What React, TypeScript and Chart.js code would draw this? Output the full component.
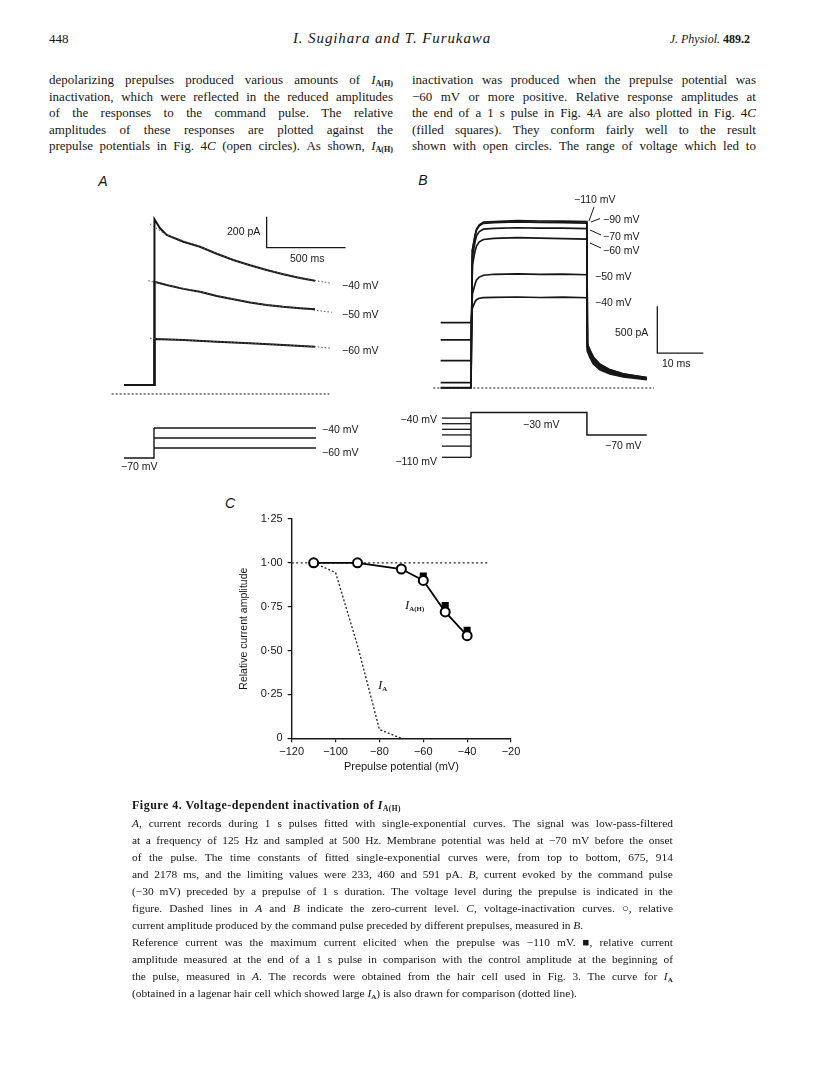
import React, { useEffect, useRef } from "react";
import { Chart, registerables } from "chart.js";
Chart.register(...registerables);

const SANS = '"Liberation Sans", Arial, Helvetica, sans-serif';
const SERIF = '"Liberation Serif", "Times New Roman", serif';
const INK = "#161616";

// ---------------- Panel C : voltage-inactivation curves ----------------
const prepulseMV = [-110, -90, -70, -60, -50, -40];
const relAmpOpen = [1.0, 1.0, 0.965, 0.9, 0.72, 0.585];
const squareMV = [-60, -50, -40];
const relAmpSquare = [0.925, 0.757, 0.615];
const iaMV = [-110, -100, -90, -80, -70];
const iaRel = [1.0, 0.945, 0.53, 0.05, 0.0];
const refLineMV = [-120, -30];
const refLineRel = [1, 1];
const xTicksC = [-120, -100, -80, -60, -40, -20];
const xTickLabelsC = ["\u2212120", "\u2212100", "\u221280", "\u221260", "\u221240", "\u221220"];
const yTicksC = [0, 0.25, 0.5, 0.75, 1.0, 1.25];
const yTickLabelsC = ["0", "0\u00b725", "0\u00b750", "0\u00b775", "1\u00b700", "1\u00b725"];

// ---------------- Panel A : current records (ms, pA) ----------------
const timeA40 = [-190, 1, 3, 38, 80, 186, 291, 397, 502, 608, 713, 818, 924, 1019];
const currA40 = [58, 58, 1127, 1069, 1026, 982, 950, 905, 864, 830, 800, 772, 748, 731];
const timeA50 = [1, 3, 80, 186, 291, 397, 502, 608, 713, 818, 924, 1019];
const currA50 = [58, 724, 703, 678, 660, 632, 611, 590, 574, 562, 553, 546];
const timeA60 = [1, 3, 186, 397, 608, 818, 1019];
const currA60 = [58, 355, 348, 337, 327, 316, 305];
const fitTimeA40 = [-25, 80, 291, 502, 713, 924, 1125];
const fitA40 = [1097, 1026, 950, 864, 800, 748, 714];
const fitTimeA50 = [-36, 80, 291, 502, 713, 924, 1125];
const fitA50 = [731, 703, 660, 611, 574, 553, 527];
const fitTimeA60 = [-25, 186, 397, 608, 818, 1019, 1125];
const fitA60 = [359, 348, 337, 327, 316, 305, 295];
const zeroTimeA = [-268, 1110];
const voltTimeA = [-190, 0, 1025];
const voltHoldA = -70;
const voltLevelsA = [-40, -50, -60];
const scaleBarA = { t0: 713, i0: 944, dt: 500, di: 200 };

// ---------------- Panel B : currents (ms, pA) ----------------
const timeB = [-6.6, 0, 0.3, 0.9, 1.2, 1.8, 2.7, 5, 10, 15, 20, 25.2, 25.3, 25.9, 26.6, 28, 30.2, 33.1, 38.2];
const currB110 = [0, 0, 1470, 1630, 1690, 1735, 1765, 1770, 1780, 1777, 1775, 1770, 470, 400, 330, 255, 195, 150, 112];
const currB90 = [5, 5, 1460, 1620, 1680, 1725, 1752, 1760, 1768, 1762, 1760, 1755, 460, 390, 320, 248, 190, 147, 110];
const currB70 = [57, 57, 1400, 1560, 1620, 1665, 1690, 1698, 1705, 1700, 1702, 1695, 445, 375, 305, 235, 180, 140, 105];
const currB60 = [291, 291, 1310, 1460, 1510, 1555, 1580, 1592, 1600, 1595, 1590, 1585, 430, 360, 292, 225, 172, 135, 102];
const currB50 = [511, 511, 1000, 1110, 1150, 1180, 1200, 1210, 1215, 1210, 1212, 1205, 410, 340, 275, 210, 160, 126, 96];
const currB40 = [695, 695, 850, 920, 940, 955, 962, 965, 968, 963, 966, 960, 390, 320, 255, 195, 150, 118, 90];
const zeroTimeB = [-8.2, 39.8];
const prepulseLevelsB = [-40, -50, -60, -70, -90, -110];
const prepulseTimeB = [-6.3, 0];
const commandB = { t0: 0, t1: 25.2, v: -30, tEnd: 38.2, vAfter: -70 };
const scaleBarB = { t0: 40.5, i0: 370, dt: 10, di: 500 };

// ---------------- text ----------------
const leftLines = [
  "depolarizing prepulses produced various amounts of \u00a7H",
  "inactivation, which were reflected in the reduced amplitudes",
  "of the responses to the command pulse. The relative",
  "amplitudes of these responses are plotted against the",
  "prepulse potentials in Fig. 4*C* (open circles). As shown, \u00a7H",
];
const rightLines = [
  "inactivation was produced when the prepulse potential was",
  "\u221260 mV or more positive. Relative response amplitudes at",
  "the end of a 1 s pulse in Fig. 4*A* are also plotted in Fig. 4*C*",
  "(filled squares). They conform fairly well to the result",
  "shown with open circles. The range of voltage which led to",
];
const captionLines = [
  "*A*, current records during 1 s pulses fitted with single-exponential curves. The signal was low-pass-filtered",
  "at a frequency of 125 Hz and sampled at 500 Hz. Membrane potential was held at \u221270 mV before the onset",
  "of the pulse. The time constants of fitted single-exponential curves were, from top to bottom, 675, 914",
  "and 2178 ms, and the limiting values were 233, 460 and 591 pA. *B*, current evoked by the command pulse",
  "(\u221230 mV) preceded by a prepulse of 1 s duration. The voltage level during the prepulse is indicated in the",
  "figure. Dashed lines in *A* and *B* indicate the zero-current level. *C*, voltage-inactivation curves. \u25cb, relative",
  "current amplitude produced by the command pulse preceded by different prepulses, measured in *B*.",
  "Reference current was the maximum current elicited when the prepulse was \u2212110 mV. \u25a0, relative current",
  "amplitude measured at the end of a 1 s pulse in comparison with the control amplitude at the beginning of",
  "the pulse, measured in *A*. The records were obtained from the hair cell used in Fig. 3. The curve for \u00a7a",
  "(obtained in a lagenar hair cell which showed large \u00a7a) is also drawn for comparison (dotted line).",
];
const captionJustify = [true, true, true, true, true, true, false, true, true, true, false];

// ---------------- helpers ----------------
const xy = (xs: number[], ys: number[]) => xs.map((x, i) => ({ x, y: ys[i] }));
const ln = (data: any[], extra: any = {}) => ({
  type: "line",
  data,
  borderColor: INK,
  borderWidth: 1.6,
  pointRadius: 0,
  fill: false,
  xAxisID: "x",
  yAxisID: "y",
  ...extra,
});

function traceOpts(xr: number[], yr: number[], vr: number[]): any {
  return {
    animation: false,
    responsive: false,
    maintainAspectRatio: false,
    events: [],
    layout: { padding: 0 },
    plugins: { legend: { display: false }, tooltip: { enabled: false } },
    elements: { point: { radius: 0 }, line: { tension: 0 } },
    scales: {
      x: { type: "linear", display: false, min: xr[0], max: xr[1] },
      y: { type: "linear", display: false, min: yr[0], max: yr[1] },
      v: { type: "linear", axis: "y", display: false, min: vr[0], max: vr[1] },
    },
  };
}

function SubI({ sub, size = 1 }: { sub: string; size?: number }) {
  return (
    <span style={{ whiteSpace: "nowrap" }}>
      <i>I</i>
      <span style={{ fontSize: `${0.62 * size}em`, fontWeight: 700, fontStyle: "normal", position: "relative", top: "0.3em", fontFamily: SERIF }}>{sub}</span>
    </span>
  );
}

function Rich({ s }: { s: string }) {
  const parts = s.split(/(\u00a7H|\u00a7a|\*[^*]*\*)/).filter((p) => p !== "");
  return (
    <>
      {parts.map((p, i) => {
        if (p === "\u00a7H") return <SubI key={i} sub="A(H)" />;
        if (p === "\u00a7a") return <SubI key={i} sub="A" />;
        if (p.length > 1 && p.startsWith("*") && p.endsWith("*")) return <i key={i}>{p.slice(1, -1)}</i>;
        return <React.Fragment key={i}>{p}</React.Fragment>;
      })}
    </>
  );
}

function TextLine({ text, left, width, yc, size, justify = true, weight = 400, spacing = 0 }: any) {
  const base: any = {
    position: "absolute",
    left,
    top: yc - 8,
    width,
    height: 16,
    lineHeight: "16px",
    fontSize: size,
    fontFamily: SERIF,
    fontWeight: weight,
    letterSpacing: spacing,
    color: INK,
    whiteSpace: "nowrap",
  };
  if (!justify) {
    return (
      <div style={base}>
        <Rich s={text} />
      </div>
    );
  }
  const words = text.split(" ");
  return (
    <div style={{ ...base, display: "flex", justifyContent: "space-between" }}>
      {words.map((w: string, i: number) => (
        <span key={i}>
          <Rich s={w} />
        </span>
      ))}
    </div>
  );
}

function Lbl({ x, y, children, align = "left", size = 10.5, italic = false, weight = 400, family = SANS }: any) {
  const tx = align === "left" ? "0" : align === "center" ? "-50%" : "-100%";
  return (
    <div
      style={{
        position: "absolute",
        left: x,
        top: y,
        transform: `translate(${tx}, -50%)`,
        fontSize: size,
        fontFamily: family,
        fontStyle: italic ? "italic" : "normal",
        fontWeight: weight,
        whiteSpace: "nowrap",
        lineHeight: 1,
        color: INK,
      }}
    >
      {children}
    </div>
  );
}

export default function App() {
  const refA = useRef<HTMLCanvasElement>(null);
  const refB = useRef<HTMLCanvasElement>(null);
  const refC = useRef<HTMLCanvasElement>(null);

  useEffect(() => {
    const charts: Chart[] = [];

    // ---------- Panel A ----------
    const dsA: any[] = [
      ln(xy(zeroTimeA, [0, 0]), { borderDash: [2, 2], borderWidth: 1.1 }),
      ln(xy(fitTimeA40, fitA40), { borderDash: [1.5, 2], borderWidth: 1, borderColor: "#555" }),
      ln(xy(fitTimeA50, fitA50), { borderDash: [1.5, 2], borderWidth: 1, borderColor: "#555" }),
      ln(xy(fitTimeA60, fitA60), { borderDash: [1.5, 2], borderWidth: 1, borderColor: "#555" }),
      ln(xy(timeA40, currA40), { borderWidth: 2 }),
      ln(xy(timeA50, currA50), { borderWidth: 2 }),
      ln(xy(timeA60, currA60), { borderWidth: 2 }),
      ln(
        [
          { x: scaleBarA.t0, y: scaleBarA.i0 + scaleBarA.di },
          { x: scaleBarA.t0, y: scaleBarA.i0 },
          { x: scaleBarA.t0 + scaleBarA.dt, y: scaleBarA.i0 },
        ],
        { borderWidth: 1.3 }
      ),
      ln(
        [
          { x: voltTimeA[0], y: voltHoldA },
          { x: voltTimeA[1], y: voltHoldA },
          { x: voltTimeA[1], y: voltLevelsA[0] },
        ],
        { yAxisID: "v", borderWidth: 1.4 }
      ),
      ...voltLevelsA.map((lv) =>
        ln(
          [
            { x: voltTimeA[1], y: lv },
            { x: voltTimeA[2], y: lv },
          ],
          { yAxisID: "v", borderWidth: 1.4 }
        )
      ),
    ];
    charts.push(
      new Chart(refA.current!, {
        type: "line",
        data: { datasets: dsA },
        options: traceOpts([-341.8, 1367.3], [-555, 1316], [-92, 198]),
      } as any)
    );

    // ---------- Panel B ----------
    const traces = [currB110, currB90, currB70, currB60, currB50, currB40];
    const dsB: any[] = [
      ln(xy(zeroTimeB, [0, 0]), { borderDash: [2, 2], borderWidth: 1.1 }),
      ...traces.map((c) => ln(xy(timeB, c), { borderWidth: 1.7 })),
      ln(
        [
          { x: scaleBarB.t0, y: scaleBarB.i0 + scaleBarB.di },
          { x: scaleBarB.t0, y: scaleBarB.i0 },
          { x: scaleBarB.t0 + scaleBarB.dt, y: scaleBarB.i0 },
        ],
        { borderWidth: 1.3 }
      ),
      ...prepulseLevelsB.map((lv) =>
        ln(
          [
            { x: prepulseTimeB[0], y: lv },
            { x: prepulseTimeB[1], y: lv },
          ],
          { yAxisID: "v", borderWidth: 1.3 }
        )
      ),
      ln(
        [
          { x: commandB.t0, y: prepulseLevelsB[prepulseLevelsB.length - 1] },
          { x: commandB.t0, y: commandB.v },
          { x: commandB.t1, y: commandB.v },
          { x: commandB.t1, y: commandB.vAfter },
          { x: commandB.tEnd, y: commandB.vAfter },
        ],
        { yAxisID: "v", borderWidth: 1.5 }
      ),
    ];
    charts.push(
      new Chart(refB.current!, {
        type: "line",
        data: { datasets: dsB },
        options: traceOpts([-10, 53.04], [-978.9, 2106.7], [-150.5, 367.3]),
      } as any)
    );

    // ---------- Panel C ----------
    const tickFont = { family: SANS, size: 11 };
    charts.push(
      new Chart(refC.current!, {
        type: "line",
        data: {
          datasets: [
            {
              data: xy(prepulseMV, relAmpOpen),
              borderColor: "#000",
              borderWidth: 1.8,
              pointRadius: 4.5,
              pointBorderWidth: 2,
              pointBackgroundColor: "#fff",
              pointBorderColor: "#000",
              order: 1,
            },
            {
              data: xy(squareMV, relAmpSquare),
              showLine: false,
              pointStyle: "rect",
              pointRadius: 5,
              pointBorderWidth: 0,
              pointBackgroundColor: "#000",
              pointBorderColor: "#000",
              order: 2,
            },
            {
              data: xy(iaMV, iaRel),
              borderColor: "#222",
              borderWidth: 1.3,
              borderDash: [2, 2],
              pointRadius: 0,
              order: 3,
            },
            {
              data: xy(refLineMV, refLineRel),
              borderColor: "#222",
              borderWidth: 1.2,
              borderDash: [2, 2.5],
              pointRadius: 0,
              order: 4,
            },
          ],
        },
        options: {
          animation: false,
          responsive: false,
          maintainAspectRatio: false,
          events: [],
          layout: { padding: { left: 18, top: 29, right: 29, bottom: 16 } },
          plugins: { legend: { display: false }, tooltip: { enabled: false } },
          elements: { line: { tension: 0 } },
          scales: {
            x: {
              type: "linear",
              min: -120,
              max: -20,
              afterBuildTicks: (s: any) => {
                s.ticks = xTicksC.map((v) => ({ value: v }));
              },
              afterFit: (s: any) => {
                s.height = 35.7;
              },
              ticks: {
                font: tickFont,
                color: INK,
                padding: 3,
                maxRotation: 0,
                autoSkip: false,
                callback: (v: any) => xTickLabelsC[xTicksC.indexOf(Number(v))],
              },
              grid: { display: true, drawOnChartArea: false, drawTicks: true, tickLength: 4, color: INK, lineWidth: 1.2 },
              border: { display: true, color: INK, width: 1.4 },
              title: { display: true, text: "Prepulse potential (mV)", font: { family: SANS, size: 11 }, color: INK, padding: 0 },
            },
            y: {
              type: "linear",
              min: 0,
              max: 1.25,
              afterBuildTicks: (s: any) => {
                s.ticks = yTicksC.map((v) => ({ value: v }));
              },
              afterFit: (s: any) => {
                s.width = 53.7;
              },
              ticks: {
                font: tickFont,
                color: INK,
                padding: 5,
                autoSkip: false,
                callback: (v: any) => yTickLabelsC[yTicksC.indexOf(Number(v))],
              },
              grid: { display: true, drawOnChartArea: false, drawTicks: true, tickLength: 4, color: INK, lineWidth: 1.2 },
              border: { display: true, color: INK, width: 1.4 },
              title: { display: true, text: "Relative current amplitude", font: { family: SANS, size: 10.5 }, color: INK, padding: 0 },
            },
          },
        },
      } as any)
    );

    return () => charts.forEach((c) => c.destroy());
  }, []);

  const canvasStyle = (l: number, t: number, w: number, h: number): any => ({
    position: "absolute",
    left: l,
    top: t,
    width: w,
    height: h,
  });

  const bodyY = [80, 96.5, 113, 129.5, 146];
  const capY0 = 822.7;
  const capStep = 17;
  const capLeft = 132;
  const capWidth = 541;

  return (
    <div style={{ position: "absolute", left: 0, top: 0, width: 816, height: 1066, background: "#fff", overflow: "hidden", color: INK }}>
      {/* running head */}
      <div style={{ position: "absolute", left: 49, top: 31, fontFamily: SERIF, fontSize: 13, lineHeight: "16px" }}>448</div>
      <div style={{ position: "absolute", left: 242, width: 300, top: 30, textAlign: "center", fontFamily: SERIF, fontSize: 15, fontStyle: "italic", lineHeight: "16px", letterSpacing: 0.9 }}>
        I. Sugihara and T. Furukawa
      </div>
      <div style={{ position: "absolute", right: 816 - 750, top: 31, fontFamily: SERIF, fontSize: 12, lineHeight: "16px", whiteSpace: "nowrap" }}>
        <i>J. Physiol.</i> <b>489.2</b>
      </div>

      {/* body text */}
      {leftLines.map((t, i) => (
        <TextLine key={"l" + i} text={t} left={49} width={344} yc={bodyY[i]} size={13} />
      ))}
      {rightLines.map((t, i) => (
        <TextLine key={"r" + i} text={t} left={412} width={344} yc={bodyY[i]} size={13} />
      ))}

      {/* panel letters */}
      <Lbl x={103} y={181} align="center" size={14} italic>A</Lbl>
      <Lbl x={423} y={180} align="center" size={14} italic>B</Lbl>
      <Lbl x={230} y={503} align="center" size={14} italic>C</Lbl>

      <canvas ref={refA} width={270} height={290} style={canvasStyle(100, 190, 270, 290)} />
      <canvas ref={refB} width={290} height={290} style={canvasStyle(425, 190, 290, 290)} />
      <canvas ref={refC} width={320} height={300} style={canvasStyle(220, 490, 320, 300)} />

      {/* panel A labels */}
      <Lbl x={342} y={285}>{"\u221240 mV"}</Lbl>
      <Lbl x={342} y={314}>{"\u221250 mV"}</Lbl>
      <Lbl x={342} y={350}>{"\u221260 mV"}</Lbl>
      <Lbl x={227} y={231}>200 pA</Lbl>
      <Lbl x={290} y={258}>500 ms</Lbl>
      <Lbl x={322} y={429}>{"\u221240 mV"}</Lbl>
      <Lbl x={322} y={452}>{"\u221260 mV"}</Lbl>
      <Lbl x={121} y={466}>{"\u221270 mV"}</Lbl>

      {/* panel B labels */}
      <Lbl x={574} y={199}>{"\u2212110 mV"}</Lbl>
      <Lbl x={603} y={219}>{"\u221290 mV"}</Lbl>
      <Lbl x={603} y={236}>{"\u221270 mV"}</Lbl>
      <Lbl x={603} y={250}>{"\u221260 mV"}</Lbl>
      <Lbl x={595} y={276}>{"\u221250 mV"}</Lbl>
      <Lbl x={595} y={302}>{"\u221240 mV"}</Lbl>
      <Lbl x={615} y={332}>500 pA</Lbl>
      <Lbl x={662} y={363}>10 ms</Lbl>
      <Lbl x={523} y={424}>{"\u221230 mV"}</Lbl>
      <Lbl x={605} y={445}>{"\u221270 mV"}</Lbl>
      <Lbl x={437} y={419} align="right">{"\u221240 mV"}</Lbl>
      <Lbl x={437} y={461} align="right">{"\u2212110 mV"}</Lbl>
      <svg width={816} height={1066} style={{ position: "absolute", left: 0, top: 0, pointerEvents: "none" }}>
        <g stroke={INK} strokeWidth={1}>
          <line x1={589} y1={221} x2={594} y2={207} />
          <line x1={591} y1={222} x2={600} y2={218.5} />
          <line x1={590} y1={230} x2={601} y2={235} />
          <line x1={590} y1={243} x2={601} y2={248} />
        </g>
      </svg>

      {/* panel C labels */}
      <Lbl x={405} y={604} family={SERIF} size={13}>
        <SubI sub="A(H)" size={0.85} />
      </Lbl>
      <Lbl x={378} y={684} family={SERIF} size={13}>
        <SubI sub="A" size={0.85} />
      </Lbl>

      {/* caption */}
      <TextLine text={"Figure 4. Voltage-dependent inactivation of \u00a7H"} left={capLeft} width={capWidth} yc={805} size={12} justify={false} weight={700} spacing={0.5} />
      {captionLines.map((t, i) => (
        <TextLine key={"c" + i} text={t} left={capLeft} width={capWidth} yc={capY0 + capStep * i} size={11.4} justify={captionJustify[i]} />
      ))}
    </div>
  );
}
